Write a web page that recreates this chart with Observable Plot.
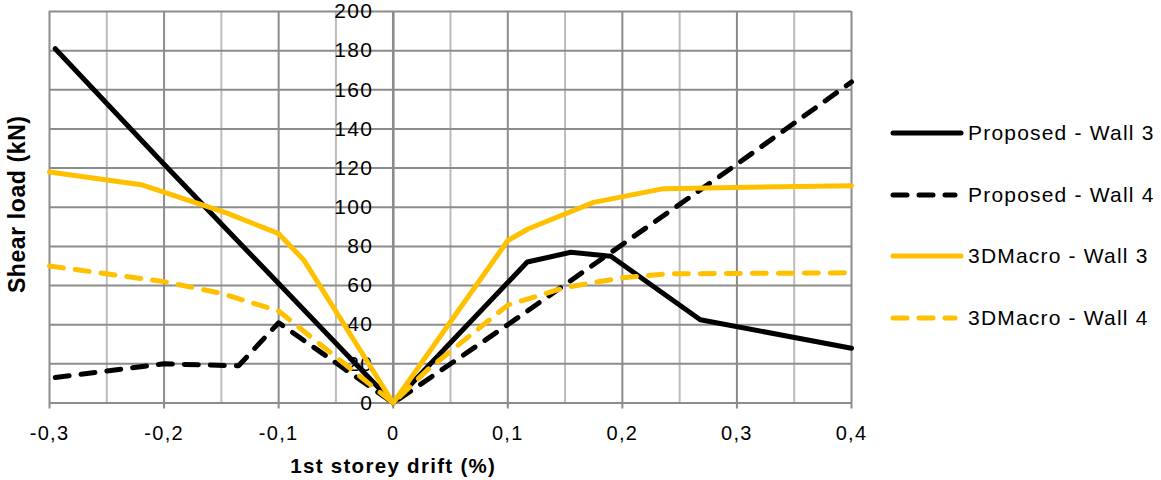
<!DOCTYPE html>
<html>
<head>
<meta charset="utf-8">
<script src="https://cdn.jsdelivr.net/npm/d3@7"></script>
<script src="https://cdn.jsdelivr.net/npm/@observablehq/plot@0.6"></script>
<style>
  body { margin: 0; background: #fff; font-family: "Liberation Sans", Arial, sans-serif; }
  #wrap { position: relative; width: 1161px; height: 480px; overflow: hidden; }
  #chart { position: absolute; left: 0; top: 0; }
  .item { position: absolute; left: 888px; height: 26px; display: flex; align-items: center; }
  .item span { font-size: 21px; letter-spacing: 1.2px; color: #000; margin-left: 4px; white-space: nowrap; }
</style>
</head>
<body>
<div id="wrap"><div id="chart"></div></div>
<script>
// ---- Data ----
const seriesNames = ["Proposed - Wall 3", "Proposed - Wall 4", "3DMacro - Wall 3", "3DMacro - Wall 4"];

const proposedW3Drift = [-0.295, -0.2, -0.1, 0, 0.117, 0.155, 0.19, 0.268, 0.4];
const proposedW3Load  = [181, 122, 61, 0, 72, 77, 75, 42.5, 28];

const proposedW4Drift = [-0.295, -0.2, -0.135, -0.1, 0, 0.1, 0.2, 0.3, 0.4];
const proposedW4Load  = [13, 20, 19, 41, 0, 40, 81, 122, 164];

const macroW3Drift = [-0.3, -0.22, -0.145, -0.1, -0.078, 0, 0.1, 0.118, 0.175, 0.236, 0.4];
const macroW3Load  = [118, 111.5, 97, 86.5, 73, 0, 83, 89, 102.5, 109.5, 111];

const macroW4Drift = [-0.3, -0.2, -0.15, -0.1, 0, 0.03, 0.1, 0.15, 0.2, 0.24, 0.4];
const macroW4Load  = [70, 62, 56, 47, 0, 17, 50, 59, 64, 66, 66.5];

const xTicks = [-0.3, -0.2, -0.1, 0, 0.1, 0.2, 0.3, 0.4];
const xTickLabels = ["-0,3", "-0,2", "-0,1", "0", "0,1", "0,2", "0,3", "0,4"];
const xMinorGrid = [-0.25, -0.15, -0.05, 0.05, 0.15, 0.25, 0.35];
const yTicks = [0, 20, 40, 60, 80, 100, 120, 140, 160, 180, 200];
const yTickLabels = ["0", "20", "40", "60", "80", "100", "120", "140", "160", "180", "200"];

const xTitle = "1st storey drift (%)";
const yTitle = "Shear load (kN)";

// ---- Build tables ----
const toRows = (xs, ys) => xs.map((x, i) => ({ x, y: ys[i] }));
const pW3 = toRows(proposedW3Drift, proposedW3Load);
const pW4 = toRows(proposedW4Drift, proposedW4Load);
const mW3 = toRows(macroW3Drift, macroW3Load);
const mW4 = toRows(macroW4Drift, macroW4Load);

const BLACK = "#000000";
const GOLD = "#FFC000";
const MAJOR = "#8c8c8c";
const MINOR = "#bcbcbc";
const DASH = "14,12";

const styles = [
  { stroke: BLACK, dash: null },
  { stroke: BLACK, dash: DASH },
  { stroke: GOLD, dash: null },
  { stroke: GOLD, dash: DASH }
];

const lineOpts = (s) => ({
  x: "x", y: "y", stroke: s.stroke, strokeWidth: 5,
  strokeLinecap: "round", strokeLinejoin: "round",
  ...(s.dash ? { strokeDasharray: s.dash } : {})
});

const xLabelRows = xTicks.map((v, i) => ({ x: v, y: 0, label: xTickLabels[i] }));
const yLabelRows = yTicks.map((v, i) => ({ x: 0, y: v, label: yTickLabels[i] }));

const chart = Plot.plot({
  width: 870,
  height: 480,
  marginLeft: 49,
  marginRight: 19,
  marginTop: 11,
  marginBottom: 77.5,
  style: { fontFamily: "'Liberation Sans', Arial, sans-serif", background: "#fff", overflow: "visible" },
  x: { domain: [-0.3, 0.4], axis: null },
  y: { domain: [0, 200], axis: null },
  marks: [
    Plot.ruleX(xMinorGrid, { stroke: MINOR, strokeWidth: 2 }),
    Plot.ruleY(yTicks, { stroke: MAJOR, strokeWidth: 2 }),
    Plot.ruleX(xTicks, { stroke: MAJOR, strokeWidth: 2, insetBottom: -6 }),
    Plot.ruleX([0], { stroke: MAJOR, strokeWidth: 2.5 }),
    Plot.text(yLabelRows, {
      x: "x", y: "y", text: "label", dx: -20, textAnchor: "end",
      fontSize: 21, fill: "#000"
    }),
    Plot.text(xLabelRows, {
      x: "x", y: "y", text: "label", dy: 31, textAnchor: "middle",
      fontSize: 20, fill: "#000"
    }),
    Plot.line(pW3, lineOpts(styles[0])),
    Plot.line(pW4, lineOpts(styles[1])),
    Plot.line(mW3, lineOpts(styles[2])),
    Plot.line(mW4, lineOpts(styles[3])),
    Plot.text([{ x: 0, y: 0 }], {
      x: "x", y: "y", text: () => xTitle, dy: 63, textAnchor: "middle",
      fontSize: 20.5, fontWeight: "bold", fill: "#000"
    }),
    Plot.text([yTitle], {
      frameAnchor: "left", text: (d) => d, rotate: -90, dx: -32, dy: -3,
      textAnchor: "middle", lineAnchor: "middle",
      fontSize: 23, fontWeight: "bold", fill: "#000"
    })
  ]
});

// letter-spacing for texts (reference glyphs are slightly wider)
chart.querySelectorAll("text").forEach(t => {
  t.style.letterSpacing = (t.textContent === yTitle) ? "0.6px" : "1.3px";
});
document.getElementById("chart").appendChild(chart);

// ---- Legend (right side) ----
const legendCenters = [133, 195, 256, 318];
const wrap = document.getElementById("wrap");
seriesNames.forEach((name, i) => {
  const s = styles[i];
  const item = document.createElement("div");
  item.className = "item";
  item.style.top = (legendCenters[i] - 13) + "px";
  const ns = "http://www.w3.org/2000/svg";
  const sw = document.createElementNS(ns, "svg");
  sw.setAttribute("width", "76");
  sw.setAttribute("height", "10");
  const ln = document.createElementNS(ns, "line");
  ln.setAttribute("x1", "5");
  ln.setAttribute("x2", s.dash ? "67" : "73");
  ln.setAttribute("y1", "5");
  ln.setAttribute("y2", "5");
  ln.setAttribute("stroke", s.stroke);
  ln.setAttribute("stroke-width", "5");
  ln.setAttribute("stroke-linecap", "round");
  if (s.dash) ln.setAttribute("stroke-dasharray", DASH);
  sw.appendChild(ln);
  const label = document.createElement("span");
  label.textContent = name;
  item.appendChild(sw);
  item.appendChild(label);
  wrap.appendChild(item);
});
</script>
</body>
</html>
